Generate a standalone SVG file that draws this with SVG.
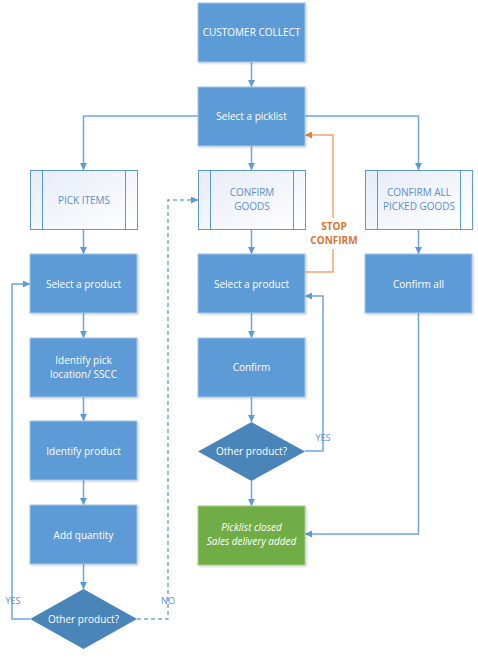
<svg xmlns="http://www.w3.org/2000/svg" width="478" height="657" viewBox="0 0 478 657">
<defs>
<linearGradient id="sub" x1="0" y1="0" x2="1" y2="1">
<stop offset="0" stop-color="#E6ECF6"/>
<stop offset="1" stop-color="#FFFFFF"/>
</linearGradient>
<marker id="ab" viewBox="0 0 10 10" refX="10" refY="5" markerWidth="7" markerHeight="7" markerUnits="userSpaceOnUse" orient="auto">
<path d="M0,0 L10,5 L0,10 z" fill="#5B9BD5"/>
</marker>
<marker id="ao" viewBox="0 0 10 10" refX="10" refY="5" markerWidth="7" markerHeight="7" markerUnits="userSpaceOnUse" orient="auto">
<path d="M0,0 L10,5 L0,10 z" fill="#ED7D31"/>
</marker>
<filter id="sh" x="-10%" y="-10%" width="130%" height="130%">
<feDropShadow dx="1" dy="1" stdDeviation="1" flood-color="#000" flood-opacity="0.2"/>
</filter>
</defs>
<style>
text{font-family:"Open Sans","Noto Sans","Liberation Sans",sans-serif;font-size:10px;text-anchor:middle}
.box{fill:#5B9BD5;stroke:#A8C6E8;stroke-width:1;filter:url(#sh)}
.dec{fill:#4A85BA;stroke:none}
.grn{fill:#70AD47;stroke:#A9CF8E;stroke-width:1;filter:url(#sh)}
.sub{fill:url(#sub);stroke:#5B9BD5;stroke-width:1}
.wt{fill:#FFFFFF}
.st{fill:#5B8FD0}
.ln{fill:none;stroke:#6EA6DC;stroke-width:1.5;marker-end:url(#ab)}
.dash{stroke-dasharray:4,3}
.or{fill:none;stroke:#F4A56C;stroke-width:1.5}
.lb{fill:#5B8FD0;font-size:9px}
.ol{fill:#E0742C;font-weight:bold;font-size:10px}
</style>

<g id="connectors">
<path class="ln" d="M251.5,62 V87"/>
<path class="ln" d="M198,116 H83.5 V170"/>
<path class="ln" d="M251.5,146 V170"/>
<path class="ln" d="M305,116 H418.5 V170"/>
<path class="ln" d="M83.5,230 V254"/>
<path class="ln" d="M251.5,230 V254"/>
<path class="ln" d="M418.5,230 V254"/>
<path class="ln" d="M83.5,313 V338"/>
<path class="ln" d="M83.5,397 V421"/>
<path class="ln" d="M83.5,480 V505"/>
<path class="ln" d="M83.5,564 V589"/>
<path class="ln" d="M30,619 H12 V284 H30"/>
<path class="ln dash" d="M137,619 H168 V200 H198"/>
<path class="ln" d="M251.5,313 V338"/>
<path class="ln" d="M251.5,397 V422"/>
<path class="ln" d="M251.5,481 V506"/>
<path class="ln" d="M305,451 H323 V296 H305"/>
<path class="ln" d="M418.5,313 V534 H305"/>
<path class="or" d="M305,272 H333 V249"/>
<path class="or" d="M333,218 V135 H305" marker-end="url(#ao)"/>
<text class="lb" x="13" y="604">YES</text>
<text class="lb" x="168" y="604">NO</text>
<text class="lb" x="323" y="441">YES</text>
<text class="ol" x="334" y="230">STOP</text>
<text class="ol" x="334" y="244">CONFIRM</text>
</g>

<g id="customer-collect">
<rect class="box" x="198" y="3" width="107" height="59"/>
<text class="wt" x="251.5" y="36">CUSTOMER COLLECT</text>
</g>
<g id="select-picklist">
<rect class="box" x="198" y="87" width="107" height="59"/>
<text class="wt" x="251.5" y="120">Select a picklist</text>
</g>

<g id="pick-items">
<rect class="sub" x="30.5" y="170.5" width="107" height="59"/>
<path d="M42.5,170.5 V229.5 M125.5,170.5 V229.5" stroke="#5B9BD5" stroke-width="1"/>
<text class="st" x="84" y="204">PICK ITEMS</text>
</g>
<g id="confirm-goods">
<rect class="sub" x="198.5" y="170.5" width="107" height="59"/>
<path d="M210.5,170.5 V229.5 M293.5,170.5 V229.5" stroke="#5B9BD5" stroke-width="1"/>
<text class="st" x="252" y="196">CONFIRM</text>
<text class="st" x="252" y="210">GOODS</text>
</g>
<g id="confirm-all-picked">
<rect class="sub" x="365.5" y="170.5" width="107" height="59"/>
<path d="M377.5,170.5 V229.5 M460.5,170.5 V229.5" stroke="#5B9BD5" stroke-width="1"/>
<text class="st" x="419" y="196">CONFIRM ALL</text>
<text class="st" x="419" y="210">PICKED GOODS</text>
</g>

<g id="left-select-product">
<rect class="box" x="30" y="254" width="107" height="59"/>
<text class="wt" x="83.5" y="288">Select a product</text>
</g>
<g id="identify-location">
<rect class="box" x="30" y="338" width="107" height="59"/>
<text class="wt" x="83.5" y="364">Identify pick</text>
<text class="wt" x="83.5" y="378">location/ SSCC</text>
</g>
<g id="identify-product">
<rect class="box" x="30" y="421" width="107" height="59"/>
<text class="wt" x="83.5" y="455">Identify product</text>
</g>
<g id="add-quantity">
<rect class="box" x="30" y="505" width="107" height="59"/>
<text class="wt" x="83.5" y="539">Add quantity</text>
</g>
<g id="left-decision">
<polygon class="dec" points="83.5,589 137,619 83.5,649 30,619"/>
<text class="wt" x="83.5" y="623">Other product?</text>
</g>

<g id="mid-select-product">
<rect class="box" x="198" y="254" width="107" height="59"/>
<text class="wt" x="251.5" y="288">Select a product</text>
</g>
<g id="confirm">
<rect class="box" x="198" y="338" width="107" height="59"/>
<text class="wt" x="251.5" y="371">Confirm</text>
</g>
<g id="mid-decision">
<polygon class="dec" points="251.5,422 305,451.5 251.5,481 198,451.5"/>
<text class="wt" x="251.5" y="455">Other product?</text>
</g>
<g id="picklist-closed">
<rect class="grn" x="198" y="506" width="107" height="59"/>
<text class="wt" x="251.5" y="531" font-style="italic">Picklist closed</text>
<text class="wt" x="251.5" y="545" font-style="italic">Sales delivery added</text>
</g>

<g id="confirm-all">
<rect class="box" x="365" y="254" width="107" height="59"/>
<text class="wt" x="418.5" y="288">Confirm all</text>
</g>
</svg>
